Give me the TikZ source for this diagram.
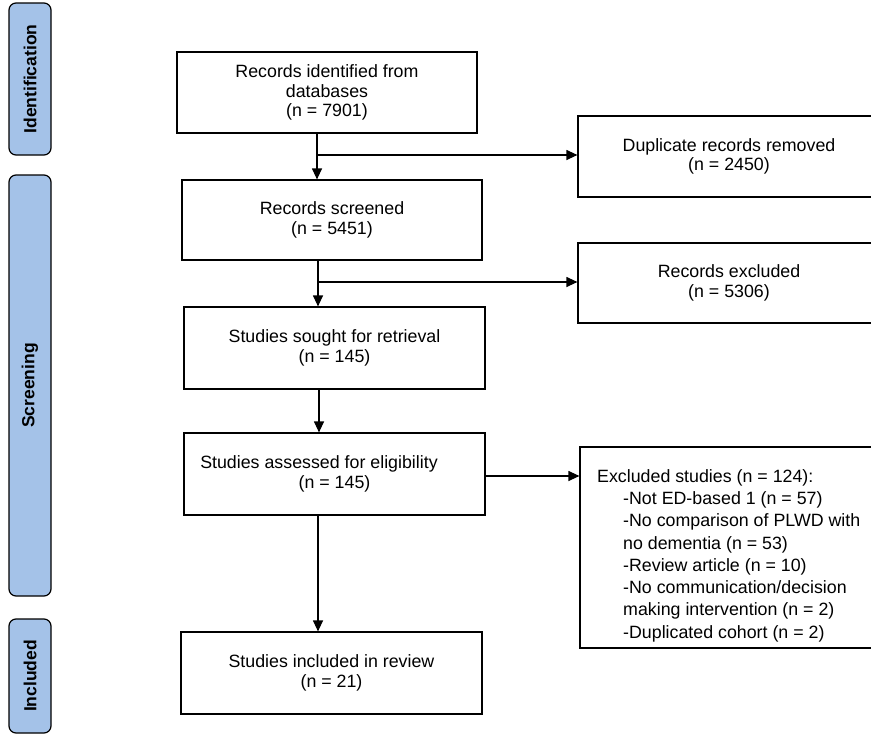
\documentclass[tikz,border=0pt]{standalone}
\usepackage{fontspec}
\setmainfont{Liberation Sans}
\usetikzlibrary{arrows.meta}
\definecolor{phase}{RGB}{164,194,232}
\begin{document}
\begin{tikzpicture}[x=1pt,y=-1pt,
  boxs/.style={draw=black, line width=1.2pt, inner sep=0pt, align=center,
    font=\fontsize{17.8pt}{19.3pt}\selectfont},
  phasebox/.style={draw=black, fill=phase, line width=1.2pt, rounded corners=7pt,
    inner sep=0pt, rotate=90, minimum height=42pt,
    font=\bfseries\fontsize{17.5pt}{20pt}\selectfont},
  arr/.style={line width=1.2pt, -{Triangle[length=11pt,width=10pt]}}]
\useasboundingbox (0,0) rectangle (871,736);
\clip (0,0) rectangle (871,736);
% phase bars
\node[phasebox, minimum width=152pt] (p1) at (30,79) {Identification};
\node[phasebox, minimum width=421pt] (p2) at (30,385.5) {Screening};
\node[phasebox, minimum width=114pt] (p3) at (30,676) {Included};
% main boxes
\node[boxs, minimum width=300pt, minimum height=81pt] (b1) at (327,92.5) {Records identified from\\databases\\(n = 7901)};
\node[boxs, minimum width=300pt, minimum height=80pt] (b2) at (332,220) {Records screened\\(n = 5451)};
\node[boxs, minimum width=301pt, minimum height=82pt] (b3) at (334.5,348) {Studies sought for retrieval\\(n = 145)};
\node[boxs, minimum width=301pt, minimum height=82pt] (b4) at (334.5,474) {Studies assessed for eligibility\rule{31pt}{0pt}\\(n = 145)};
\node[boxs, minimum width=301pt, minimum height=82pt] (b5) at (331.5,673) {Studies included in review\\(n = 21)};
% side boxes
\node[boxs, minimum width=302pt, minimum height=81pt] (d1) at (729,156.5) {Duplicate records removed\\(n = 2450)};
\node[boxs, minimum width=302pt, minimum height=80pt] (d2) at (729,283) {Records excluded\\(n = 5306)};
\node[boxs, minimum width=300pt, minimum height=201pt] (d3) at (730,547.5) {};
\node[anchor=north west, inner sep=0pt, align=left,
  font=\fontsize{17.8pt}{22.3pt}\selectfont] (d3t) at (597,469)
  {Excluded studies (n = 124):\\
   \hspace*{26pt}-Not ED-based 1 (n = 57)\\
   \hspace*{26pt}-No comparison of PLWD with\\
   \hspace*{26pt}no dementia (n = 53)\\
   \hspace*{26pt}-Review article (n = 10)\\
   \hspace*{26pt}-No communication/decision\\
   \hspace*{26pt}making intervention (n = 2)\\
   \hspace*{26pt}-Duplicated cohort (n = 2)};
% connectors
\coordinate (j1) at (317,155);
\coordinate (j2) at (318,282);
\coordinate (j3) at (319,0);
\coordinate (j4) at (485,476);
\coordinate (j5) at (318,0);
\draw[arr] (b1.south -| j1) -- (b2.north -| j1);
\draw[arr] (j1) -- (d1.west |- j1);
\draw[arr] (b2.south -| j2) -- (b3.north -| j2);
\draw[arr] (j2) -- (d2.west |- j2);
\draw[arr] (b3.south -| j3) -- (b4.north -| j3);
\draw[arr] (b4.east |- j4) -- (d3.west |- j4);
\draw[arr] (b4.south -| j5) -- (b5.north -| j5);
\end{tikzpicture}
\end{document}
